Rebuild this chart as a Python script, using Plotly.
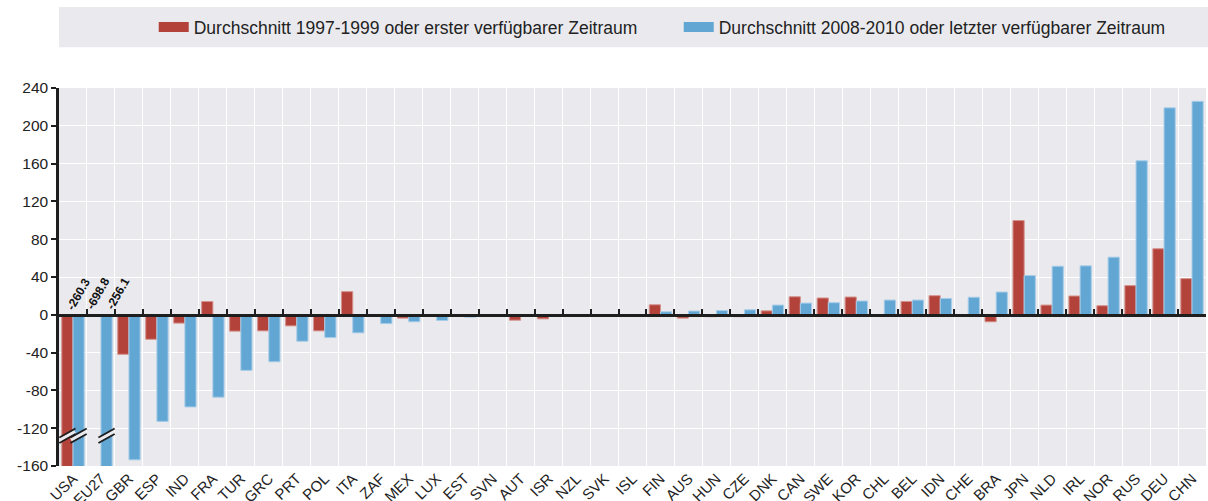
import plotly.graph_objects as go

# ---------------- data ----------------
countries = ["USA", "EU27", "GBR", "ESP", "IND", "FRA", "TUR", "GRC", "PRT", "POL",
             "ITA", "ZAF", "MEX", "LUX", "EST", "SVN", "AUT", "ISR", "NZL", "SVK",
             "ISL", "FIN", "AUS", "HUN", "CZE", "DNK", "CAN", "SWE", "KOR", "CHL",
             "BEL", "IDN", "CHE", "BRA", "JPN", "NLD", "IRL", "NOR", "RUS", "DEU", "CHN"]

avg_1997_1999 = [-260.3, None, -41.8, -25.9, -8.8, 14.1, -17.3, -17.0, -11.7, -17.0,
                 24.5, None, -3.5, -1.4, None, None, -5.7, -4.3, None, -0.5,
                 None, 10.6, -3.5, -2.0, -2.0, 4.2, 19.1, 17.8, 18.8, None,
                 14.1, 20.2, None, -7.4, 99.7, 10.3, 19.9, 9.6, 30.9, 69.9, 38.3]

avg_2008_2010 = [-698.8, -256.1, -153.5, -112.8, -97.5, -87.2, -58.8, -49.7, -28.0, -24.1,
                 -19.1, -9.3, -7.4, -6.0, -2.5, -1.8, -1.8, -0.5, None, None,
                 None, 3.2, 4.0, 4.5, 5.3, 10.3, 12.4, 12.8, 14.6, 15.6,
                 15.6, 17.3, 18.6, 24.1, 41.5, 51.4, 51.8, 61.0, 163.0, 219.0, 225.9]

series_names = ["Durchschnitt 1997-1999 oder erster verfügbarer Zeitraum",
                "Durchschnitt 2008-2010 oder letzter verfügbarer Zeitraum"]

y_ticks = [-160, -120, -80, -40, 0, 40, 80, 120, 160, 200, 240]
y_min, y_max = -160, 240

# ---------------- style ----------------
RED = "#B3423A"
RED_EDGE = "#D5918B"
BLUE = "#62A6D3"
BLUE_EDGE = "#A8CDE8"
BG = "#EAEAEE"
BAR_OFFSET = 0.2          # half of a bar slot within a category (bargap 0.2)
BREAK_Y = -128            # where the axis-break marks sit on truncated bars
LABEL_XSHIFT = [11, 19, 11]
REG = "Liberation Sans, Arial, sans-serif"

fig = go.Figure()
for vals, name, col, edge in ((avg_1997_1999, series_names[0], RED, RED_EDGE),
                              (avg_2008_2010, series_names[1], BLUE, BLUE_EDGE)):
    fig.add_bar(x=countries, y=vals, name=name, legendgroup=name, showlegend=False,
                marker=dict(color=col, line=dict(color=edge, width=1)),
                hoverinfo="x+y")
# legend entries (wide rectangular swatches like the original)
for name, col in ((series_names[0], RED), (series_names[1], BLUE)):
    fig.add_scatter(x=[None], y=[None], name=name, legendgroup=name, mode="lines",
                    line=dict(color=col, width=12), hoverinfo="skip")
# invisible helper trace so the zero-line axis knows the categories
fig.add_scatter(x=countries, y=[0] * len(countries), xaxis="x2", mode="markers",
                marker=dict(opacity=0), hoverinfo="skip", showlegend=False)

# ---------------- truncated bars: break marks + value labels ----------------
shapes = []
annotations = []
k = 0
for i, c in enumerate(countries):
    for vals, off in ((avg_1997_1999, -BAR_OFFSET), (avg_2008_2010, BAR_OFFSET)):
        v = vals[i]
        if v is None or v >= y_min:
            continue
        xc = i + off
        shapes.append(dict(type="line", xref="x", yref="y",
                           x0=xc - 0.27, x1=xc + 0.27, y0=BREAK_Y - 4.5, y1=BREAK_Y + 4.5,
                           line=dict(color=BG, width=3.5), layer="above"))
        for d in (-2.9, 2.9):
            shapes.append(dict(type="line", xref="x", yref="y",
                               x0=xc - 0.29, x1=xc + 0.29,
                               y0=BREAK_Y - 4.8 + d, y1=BREAK_Y + 4.8 + d,
                               line=dict(color="#1E1E1E", width=1.8), layer="above"))
        annotations.append(dict(x=xc, y=0, xref="x", yref="y", text="%.1f" % v,
                                showarrow=False, textangle=-60,
                                xshift=LABEL_XSHIFT[k % len(LABEL_XSHIFT)], yshift=21,
                                font=dict(family=REG, size=12, color="#111111", weight="bold"),
                                xanchor="center", yanchor="middle"))
        k += 1

# legend background band
shapes.append(dict(type="rect", xref="paper", yref="paper",
                   x0=0, x1=1.01, y0=1.108, y1=1.214,
                   fillcolor=BG, line=dict(width=0), layer="below"))

fig.update_layout(
    width=1208, height=501,
    margin=dict(l=59, r=2, t=88, b=35, autoexpand=False),
    paper_bgcolor="white", plot_bgcolor=BG,
    barmode="group", bargap=0.2, bargroupgap=0,
    showlegend=True,
    legend=dict(orientation="h", x=0.5403, xanchor="center", y=1.161, yanchor="middle",
                bgcolor="rgba(0,0,0,0)", font=dict(family=REG, size=17.5, color="#222222"),
                entrywidth=480, entrywidthmode="pixels", traceorder="normal"),
    xaxis=dict(type="category", categoryorder="array", categoryarray=countries,
               range=[-0.5, len(countries) - 0.5],
               tickson="boundaries", ticks="", showgrid=True, gridcolor="white", gridwidth=1,
               tickangle=-45, tickfont=dict(family=REG, size=15, color="#222222"),
               showline=False, zeroline=False, automargin=False),
    xaxis2=dict(type="category", overlaying="x", matches="x", anchor="free",
                position=(0 - y_min) / (y_max - y_min), side="bottom",
                tickson="boundaries", ticks="inside", ticklen=5, tickwidth=2,
                tickcolor="#1E1E1E", showticklabels=False, showgrid=False,
                showline=True, linecolor="#1E1E1E", linewidth=3, zeroline=False),
    yaxis=dict(range=[y_min, y_max], tickvals=y_ticks, ticktext=[str(t) for t in y_ticks],
               showline=True, linecolor="#1E1E1E", linewidth=2.5,
               ticks="outside", ticklen=5, tickwidth=2, tickcolor="#1E1E1E",
               showgrid=True, gridcolor="white", gridwidth=1, zeroline=False,
               tickfont=dict(family=REG, size=15.5, color="#222222"), automargin=False),
    shapes=shapes, annotations=annotations,
)

fig.write_html("out.html", config={"displayModeBar": False},
               post_script="document.body.style.margin='0';")
